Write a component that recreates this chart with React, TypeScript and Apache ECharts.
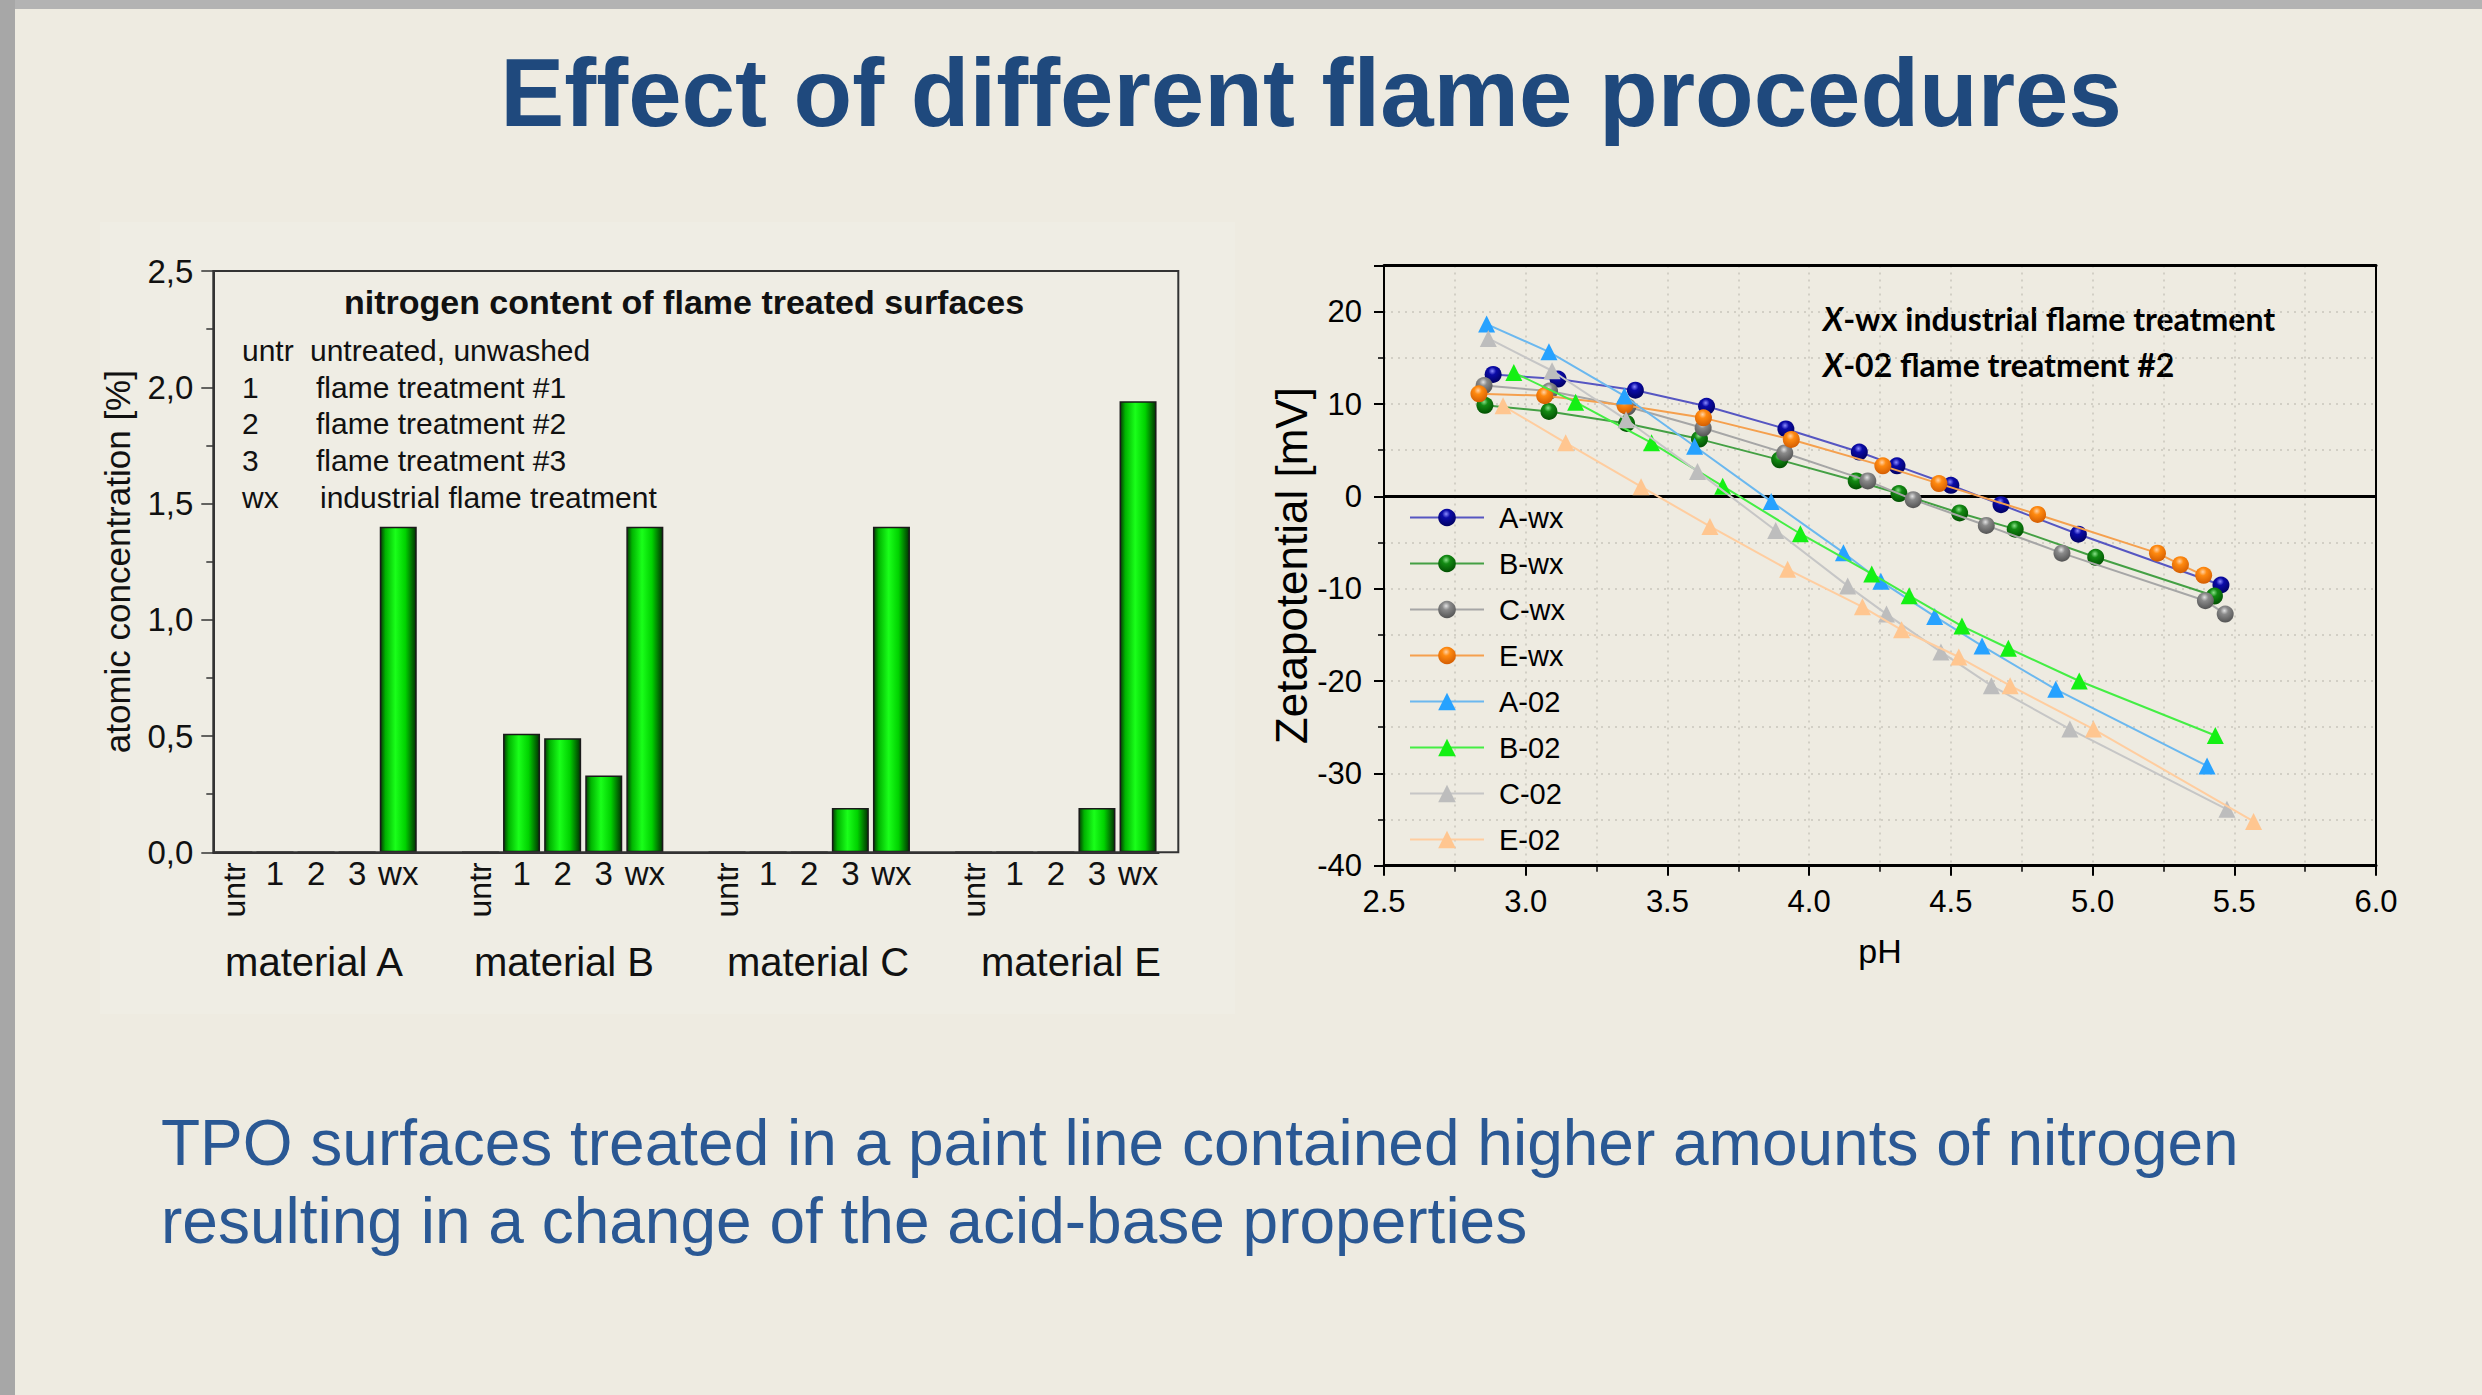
import React, { useEffect, useRef } from 'react';
import * as echarts from 'echarts';

// ---------- left chart data ----------
const treatments = ['untr', '1', '2', '3', 'wx'];
const materials = ['material A', 'material B', 'material C', 'material E'];
const nitrogenA = [0, 0, 0, 0, 1.4];
const nitrogenB = [0, 0.51, 0.49, 0.33, 1.4];
const nitrogenC = [0, 0, 0, 0.19, 1.4];
const nitrogenE = [0, 0, 0, 0.19, 1.94];
const legendCodes = ['untr', '1', '2', '3', 'wx'];
const legendTexts = ['untreated, unwashed', 'flame treatment #1', 'flame treatment #2', 'flame treatment #3', 'industrial flame treatment'];

// ---------- right chart data (pH, zeta potential mV) ----------
const seriesNames = ['A-wx', 'B-wx', 'C-wx', 'E-wx', 'A-02', 'B-02', 'C-02', 'E-02'];
const aWx = [[2.885, 13.2], [3.114, 12.7], [3.387, 11.5], [3.638, 9.75], [3.918, 7.3], [4.177, 4.8], [4.31, 3.3], [4.5, 1.2], [4.677, -0.9], [4.95, -4.1], [5.453, -9.6]];
const bWx = [[2.856, 9.86], [3.082, 9.2], [3.356, 7.9], [3.613, 6.2], [3.896, 3.95], [4.166, 1.67], [4.317, 0.3], [4.531, -1.8], [4.727, -3.55], [5.011, -6.6], [5.43, -10.8]];
const cWx = [[2.853, 12.0], [3.084, 11.4], [3.36, 9.7], [3.626, 7.4], [3.914, 4.7], [4.207, 1.67], [4.367, -0.36], [4.625, -3.15], [4.892, -6.15], [5.398, -11.3], [5.468, -12.75]];
const eWx = [[2.835, 11.1], [3.067, 10.9], [3.35, 9.86], [3.627, 8.5], [3.937, 6.16], [4.26, 3.3], [4.458, 1.38], [4.806, -1.96], [5.229, -6.15], [5.31, -7.4], [5.392, -8.55]];
const a02 = [[2.862, 18.66], [3.082, 15.65], [3.348, 10.87], [3.596, 5.43], [3.866, -0.55], [4.121, -6.1], [4.253, -9.2], [4.443, -13.0], [4.61, -16.2], [4.87, -20.9], [5.404, -29.2]];
const b02 = [[2.958, 13.4], [3.176, 10.2], [3.444, 5.8], [3.695, 1.1], [3.969, -4.05], [4.221, -8.4], [4.353, -10.76], [4.539, -14.05], [4.703, -16.45], [4.953, -20.0], [5.433, -25.9]];
const c02 = [[2.868, 17.1], [3.093, 13.6], [3.354, 8.3], [3.606, 2.7], [3.882, -3.7], [4.136, -9.7], [4.273, -12.75], [4.465, -16.85], [4.643, -20.5], [4.92, -25.2], [5.474, -33.9]];
const e02 = [[2.92, 9.8], [3.141, 5.8], [3.407, 1.05], [3.65, -3.26], [3.924, -7.9], [4.188, -11.96], [4.326, -14.45], [4.528, -17.4], [4.709, -20.5], [5.003, -25.2], [5.568, -35.2]];
const zetaData = [aWx, bWx, cWx, eWx, a02, b02, c02, e02];

const ARIAL = "'Liberation Sans', Arial, sans-serif";
const CALIBRI = "Lato, 'Open Sans', sans-serif";

// marker styles: [base, dark, light, line]
const markerStyles = [
  ['#0b0ba8', '#00005a', '#8a8aff', '#5656c2'],
  ['#138a13', '#004a00', '#88e088', '#44a044'],
  ['#8a8a8a', '#4e4e4e', '#e2e2e2', '#a6a6a6'],
  ['#ff8a10', '#cf5800', '#ffd2a6', '#f5a04e'],
  ['#27a2ff', '#27a2ff', '#27a2ff', '#6bb8ef'],
  ['#14f014', '#14f014', '#14f014', '#44ee44'],
  ['#bdbdbd', '#bdbdbd', '#bdbdbd', '#c6c6c6'],
  ['#ffc690', '#ffc690', '#ffc690', '#ffcd9f'],
];

function App() {
  const ref = useRef<HTMLDivElement>(null);
  useEffect(() => {
    if (!ref.current) return;
    const chart = echarts.init(ref.current, null, { renderer: 'svg' });

    const groups = [nitrogenA, nitrogenB, nitrogenC, nitrogenE];
    const cats: string[] = [];
    const vals: (number | null)[] = [];
    groups.forEach((g, gi) => {
      if (gi > 0) { cats.push('gap' + gi); vals.push(null); }
      treatments.forEach((t, ti) => { cats.push(materials[gi] + '|' + t); vals.push(g[ti]); });
    });

    const barGradient = new echarts.graphic.LinearGradient(0, 0, 1, 0, [
      { offset: 0, color: '#063d06' },
      { offset: 0.14, color: '#00b400' },
      { offset: 0.42, color: '#1aff1a' },
      { offset: 0.7, color: '#00d200' },
      { offset: 1, color: '#023302' },
    ]);

    const lineSeries = zetaData.map((d, i) => {
      const [base, dark, light, line] = markerStyles[i];
      const isCircle = i < 4;
      const color = isCircle
        ? new echarts.graphic.RadialGradient(0.45, 0.3, 0.75, [
            { offset: 0, color: light },
            { offset: 0.3, color: base },
            { offset: 1, color: dark },
          ])
        : base;
      const s: any = {
        name: seriesNames[i],
        type: 'line',
        xAxisIndex: 2,
        yAxisIndex: 1,
        data: d,
        symbol: isCircle ? 'circle' : 'triangle',
        symbolSize: 17,
        showSymbol: true,
        lineStyle: { color: line, width: 2 },
        itemStyle: { color, borderWidth: 0 },
        z: 3 + i,
      };
      if (i === 0) {
        s.markLine = {
          silent: true,
          symbol: 'none',
          data: [{ yAxis: 0 }],
          lineStyle: { color: '#000', width: 3, type: 'solid' },
          label: { show: false },
          z: 1,
        };
      }
      return s;
    });

    const legendGraphics: any[] = [];
    legendCodes.forEach((c, i) => {
      const y = [350, 387, 423.5, 460, 497][i];
      legendGraphics.push({
        type: 'text', x: 242, y,
        style: { text: c, fontSize: 30, fontFamily: ARIAL, fill: '#111', align: 'left', verticalAlign: 'middle' },
      });
      legendGraphics.push({
        type: 'text', x: [310, 316, 316, 316, 320][i], y,
        style: { text: legendTexts[i], fontSize: 30, fontFamily: ARIAL, fill: '#111', align: 'left', verticalAlign: 'middle' },
      });
    });

    const materialX = [314, 564, 818, 1071];

    const option: any = {
      animation: false,
      backgroundColor: '#eeebe1',
      grid: [
        { left: 213.3, top: 271, width: 945.3, height: 581.3 },
        { left: 1384, top: 265.5, width: 992, height: 600.2, show: false },
      ],
      xAxis: [
        {
          gridIndex: 0, type: 'category', data: cats, position: 'bottom',
          axisLine: { show: true, lineStyle: { color: '#333', width: 2 } },
          axisTick: { show: false },
          splitLine: { show: false },
          axisLabel: {
            interval: 0, fontSize: 33, color: '#111', fontFamily: ARIAL, margin: 5,
            formatter: (v: string) => { const t = v.split('|')[1]; return t && t !== 'untr' ? t : ''; },
          },
        },
        {
          gridIndex: 0, type: 'category', data: cats, position: 'bottom',
          axisLine: { show: false }, axisTick: { show: false }, splitLine: { show: false },
          axisLabel: {
            interval: 0, rotate: 90, fontSize: 32, color: '#111', fontFamily: ARIAL, margin: 10,
            formatter: (v: string) => (v.split('|')[1] === 'untr' ? 'untr' : ''),
          },
        },
        {
          gridIndex: 1, type: 'value', min: 2.5, max: 6.0, interval: 0.5, position: 'bottom',
          axisLine: { show: true, onZero: false, lineStyle: { color: '#000', width: 3 } },
          axisTick: { show: true, inside: false, length: 10, lineStyle: { color: '#000', width: 2 } },
          minorTick: { show: true, splitNumber: 2, length: 6, lineStyle: { color: '#000', width: 1.5 } },
          axisLabel: { fontSize: 31, color: '#000', fontFamily: ARIAL, margin: 20, formatter: (v: number) => v.toFixed(1) },
          splitLine: { show: true, lineStyle: { color: '#c9c6bc', type: [2, 5], width: 1.5 } },
          minorSplitLine: { show: true, lineStyle: { color: '#c9c6bc', type: [2, 5], width: 1.5 } },
          name: 'pH', nameLocation: 'middle', nameGap: 68,
          nameTextStyle: { fontSize: 34, color: '#000', fontFamily: ARIAL },
        },
        {
          gridIndex: 1, type: 'value', min: 2.5, max: 6.0, interval: 0.5, position: 'top',
          axisLine: { show: true, onZero: false, lineStyle: { color: '#000', width: 3 } },
          axisTick: { show: false }, axisLabel: { show: false }, splitLine: { show: false },
        },
      ],
      yAxis: [
        {
          gridIndex: 0, type: 'value', min: 0, max: 2.5, interval: 0.5,
          axisLine: { show: true, lineStyle: { color: '#333', width: 2 } },
          axisTick: { show: true, inside: false, length: 12, lineStyle: { color: '#333', width: 1.5 } },
          minorTick: { show: true, splitNumber: 2, length: 7, lineStyle: { color: '#333', width: 1.5 } },
          axisLabel: {
            fontSize: 33, color: '#111', fontFamily: ARIAL, margin: 20,
            formatter: (v: number) => v.toFixed(1).replace('.', ','),
          },
          splitLine: { show: false },
          name: 'atomic concentration [%]', nameLocation: 'middle', nameGap: 78, nameRotate: 90,
          nameTextStyle: { fontSize: 35, color: '#111', fontFamily: ARIAL },
        },
        {
          gridIndex: 1, type: 'value', min: -40, max: 25, interval: 10,
          axisLine: { show: true, onZero: false, lineStyle: { color: '#000', width: 2 } },
          axisTick: { show: true, inside: false, length: 10, lineStyle: { color: '#000', width: 2 } },
          minorTick: { show: true, splitNumber: 2, length: 6, lineStyle: { color: '#000', width: 1.5 } },
          axisLabel: {
            fontSize: 31, color: '#000', fontFamily: ARIAL, margin: 22,
            formatter: (v: number) => (v > 20 ? '' : String(v)),
          },
          splitLine: { show: true, lineStyle: { color: '#c9c6bc', type: [2, 5], width: 1.5 } },
          minorSplitLine: { show: true, lineStyle: { color: '#c9c6bc', type: [2, 5], width: 1.5 } },
          name: 'Zetapotential [mV]', nameLocation: 'middle', nameGap: 68, nameRotate: 90,
          nameTextStyle: { fontSize: 44, color: '#000', fontFamily: ARIAL },
        },
        {
          gridIndex: 1, type: 'value', min: -40, max: 25, interval: 10, position: 'right',
          axisLine: { show: true, onZero: false, lineStyle: { color: '#000', width: 2 } },
          axisTick: { show: false }, axisLabel: { show: false }, splitLine: { show: false },
        },
      ],
      legend: {
        orient: 'vertical', left: 1404, top: 498,
        itemWidth: 74, itemHeight: 22, itemGap: 17,
        data: seriesNames,
        textStyle: { fontSize: 29, lineHeight: 26, color: '#000', fontFamily: ARIAL, padding: [0, 0, 0, 10] },
      },
      series: [
        {
          type: 'bar', xAxisIndex: 0, yAxisIndex: 0, data: vals, barWidth: 37,
          itemStyle: { color: barGradient, borderColor: '#1a1a1a', borderWidth: 1.5 },
          z: 2,
        },
        ...lineSeries,
      ],
      graphic: [
        { type: 'rect', z: -10, shape: { x: 0, y: 0, width: 2482, height: 9 }, style: { fill: '#b3b3b3' } },
        { type: 'rect', z: -10, shape: { x: 0, y: 0, width: 15, height: 1395 }, style: { fill: '#a7a7a7' } },
        { type: 'rect', z: -20, shape: { x: 100, y: 222, width: 1135, height: 792 }, style: { fill: '#efede4' } },
        {
          type: 'rect', z: 10, shape: { x: 213.3, y: 271, width: 965, height: 581.3 },
          style: { fill: 'none', stroke: '#333', lineWidth: 2 },
        },
        {
          type: 'text', x: 1311, y: 92,
          style: { text: 'Effect of different flame procedures', fontSize: 96, fontWeight: 'bold', fontFamily: ARIAL, fill: '#1f497d', align: 'center', verticalAlign: 'middle' },
        },
        {
          type: 'text', x: 161, y: 1143,
          style: { text: 'TPO surfaces treated in a paint line contained higher amounts of nitrogen', fontSize: 64, fontFamily: ARIAL, fill: '#2a5894', align: 'left', verticalAlign: 'middle' },
        },
        {
          type: 'text', x: 161, y: 1221,
          style: { text: 'resulting in a change of the acid-base properties', fontSize: 64, fontFamily: ARIAL, fill: '#2a5894', align: 'left', verticalAlign: 'middle' },
        },
        {
          type: 'text', x: 684, y: 302,
          style: { text: 'nitrogen content of flame treated surfaces', fontSize: 34, fontWeight: 'bold', fontFamily: ARIAL, fill: '#111', align: 'center', verticalAlign: 'middle' },
        },
        ...legendGraphics,
        ...materials.map((m, i) => ({
          type: 'text', x: materialX[i], y: 962,
          style: { text: m, fontSize: 40, fontFamily: ARIAL, fill: '#111', align: 'center', verticalAlign: 'middle' },
        })),
        {
          type: 'text', x: 1823, y: 318,
          style: {
            text: '{i|X}-wx industrial flame treatment', fontSize: 32, fontWeight: 'bold', fontFamily: CALIBRI, fill: '#000', align: 'left', verticalAlign: 'middle',
            rich: { i: { fontStyle: 'italic', fontWeight: 'bold', fontSize: 32, fontFamily: CALIBRI, fill: '#000' } },
          },
        },
        {
          type: 'text', x: 1823, y: 364,
          style: {
            text: '{i|X}-02 flame treatment #2', fontSize: 32, fontWeight: 'bold', fontFamily: CALIBRI, fill: '#000', align: 'left', verticalAlign: 'middle',
            rich: { i: { fontStyle: 'italic', fontWeight: 'bold', fontSize: 32, fontFamily: CALIBRI, fill: '#000' } },
          },
        },
      ],
    };

    chart.setOption(option);
    return () => chart.dispose();
  }, []);

  return (
    <div
      ref={ref}
      style={{ position: 'fixed', left: 0, top: 0, width: 2482, height: 1395, background: '#eeebe1' }}
    />
  );
}

export default App;
